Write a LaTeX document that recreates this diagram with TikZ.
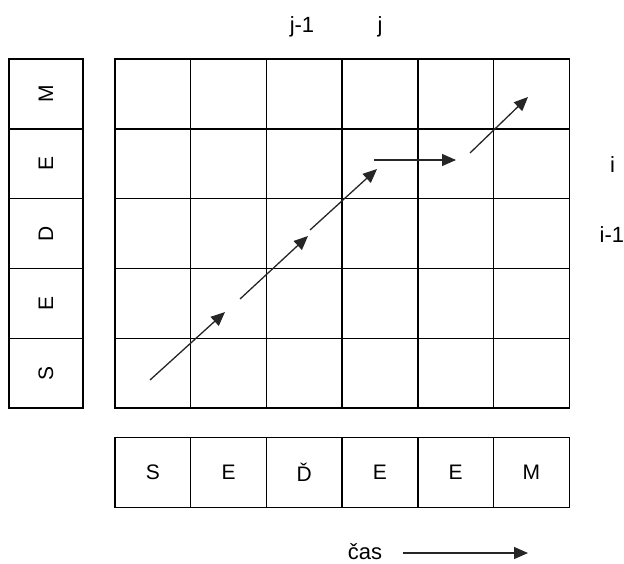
\documentclass[tikz,border=0pt]{standalone}
\usepackage{fontspec}
\setmainfont{Liberation Sans}
\usetikzlibrary{arrows.meta}
\begin{document}
\begin{tikzpicture}[x=1pt,y=-1pt,
  cell/.style={draw, line width=1.4pt, minimum width=75.7pt, minimum height=69.8pt, inner sep=0pt, font=\fontsize{21}{25}\selectfont},
  lcell/.style={cell, minimum width=74pt},
  bcell/.style={cell, minimum height=70.5pt},
  lbl/.style={font=\fontsize{22}{26}\selectfont, inner sep=0pt},
  arr/.style={line width=1.3pt, draw=black!85, -{Triangle[length=14pt,width=12pt]}}]
\useasboundingbox (0,0) rectangle (624,563);
% main grid
\foreach \c in {0,...,5}{
  \foreach \r in {0,...,4}{
    \node[cell] (g-\r-\c) at ({115+75.7*(\c+0.5)},{59+69.8*(\r+0.5)}) {};
  }
}
% left column (rotated letters)
\foreach \t [count=\r from 0] in {M,E,D,E,S}{
  \node[lcell] (l-\r) at (46,{59+69.8*(\r+0.5)}) {\rotatebox{90}{\t}};
}
% bottom row
\foreach \t [count=\c from 0] in {S,E,Ď,E,E,M}{
  \node[bcell] (b-\c) at ({115+75.7*(\c+0.5)},472.5) {\t};
}
% labels
\node[lbl, anchor=base] (jm1) at (302,32) {j-1};
\node[lbl, anchor=base] (jj) at (380,32) {j};
\node[lbl, anchor=base west] (ii) at (610,172) {i};
\node[lbl, anchor=base west] (im1) at (599.5,242) {i-1};
\node[lbl, anchor=base, text depth=0pt] (cas) at (365,559) {čas};
% arrow endpoints
\coordinate (p1) at (150,380); \coordinate (q1) at (225,312);
\coordinate (p2) at (240,299); \coordinate (q2) at (308,236);
\coordinate (p3) at (310,230); \coordinate (q3) at (377,169);
\coordinate (p4) at (374,160); \coordinate (q4) at (456,160);
\coordinate (p5) at (470,153); \coordinate (q5) at (528,97);
\coordinate (t0) at (403,553); \coordinate (t1) at (528,553);
\draw[arr] (p1) -- (q1);
\draw[arr] (p2) -- (q2);
\draw[arr] (p3) -- (q3);
\draw[arr] (p4) -- (q4);
\draw[arr] (p5) -- (q5);
\draw[arr] (t0) -- (t1);
\end{tikzpicture}
\end{document}
